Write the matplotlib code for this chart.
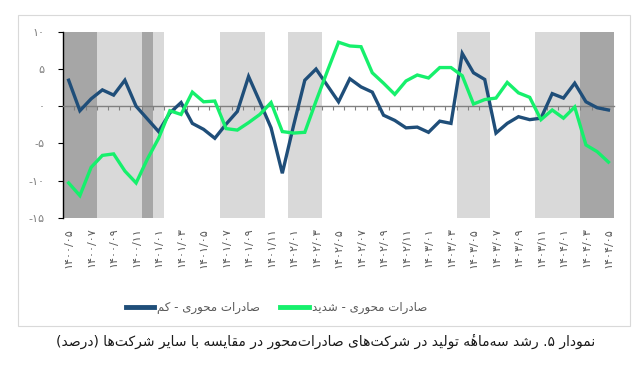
import matplotlib
matplotlib.use("Agg")
import matplotlib.pyplot as plt
from matplotlib.patches import Rectangle
from matplotlib.lines import Line2D
import numpy as np

# ---- data -------------------------------------------------------------
start_year, start_month, n_months = 1400, 5, 49
periods = []
y, m = start_year, start_month
for _ in range(n_months):
    periods.append(f"{y}/{m:02d}")
    m += 1
    if m > 12:
        y, m = y + 1, 1

export_low = [3.5, -0.6, 1.0, 2.2, 1.5, 3.5, 0.0, -1.7, -3.4, -0.9,
              0.5, -2.3, -3.1, -4.3, -2.4, -0.7, 4.0, 0.6, -2.9, -9.0,
              -2.6, 3.5, 5.0, 2.8, 0.6, 3.7, 2.6, 1.9, -1.2, -1.9,
              -2.9, -2.8, -3.5, -2.0, -2.3, 7.1, 4.5, 3.6, -3.6, -2.3,
              -1.4, -1.8, -1.6, 1.7, 1.1, 3.1, 0.6, -0.2, -0.5]
export_high = [-10.3, -12.0, -8.2, -6.6, -6.4, -8.7, -10.3, -7.1, -4.3, -0.6,
               -1.1, 1.9, 0.6, 0.7, -3.0, -3.2, -2.2, -1.1, 0.5, -3.4,
               -3.6, -3.5, 0.7, 4.7, 8.6, 8.1, 8.0, 4.5, 3.1, 1.6,
               3.4, 4.2, 3.8, 5.2, 5.2, 4.1, 0.3, 0.9, 1.1, 3.2,
               1.8, 1.2, -1.8, -0.5, -1.6, -0.1, -5.2, -6.1, -7.5]

# shaded periods (first index, last index, kind)
shade_periods = [(0, 2, "dark"), (3, 6, "light"), (7, 7, "dark"), (8, 8, "light"),
                 (14, 17, "light"), (20, 22, "light"), (35, 37, "light"),
                 (42, 45, "light"), (46, 48, "dark")]

label_low = "صادرات محوری - کم"
label_high = "صادرات محوری - شدید"
caption = "نمودار ۵. رشد سه‌ماهۀ تولید در شرکت‌های صادرات‌محور در مقایسه با سایر شرکت‌ها (درصد)"

# ---- simple persian shaping (matplotlib has no bidi / joining) --------
FORMS = {
    "ا": ("\uFE8D", "\uFE8E", None, None),
    "ب": ("\uFE8F", "\uFE90", "\uFE91", "\uFE92"),
    "ت": ("\uFE95", "\uFE96", "\uFE97", "\uFE98"),
    "ح": ("\uFEA1", "\uFEA2", "\uFEA3", "\uFEA4"),
    "د": ("\uFEA9", "\uFEAA", None, None),
    "ر": ("\uFEAD", "\uFEAE", None, None),
    "س": ("\uFEB1", "\uFEB2", "\uFEB3", "\uFEB4"),
    "ش": ("\uFEB5", "\uFEB6", "\uFEB7", "\uFEB8"),
    "ص": ("\uFEB9", "\uFEBA", "\uFEBB", "\uFEBC"),
    "ق": ("\uFED5", "\uFED6", "\uFED7", "\uFED8"),
    "ل": ("\uFEDD", "\uFEDE", "\uFEDF", "\uFEE0"),
    "م": ("\uFEE1", "\uFEE2", "\uFEE3", "\uFEE4"),
    "ن": ("\uFEE5", "\uFEE6", "\uFEE7", "\uFEE8"),
    "ه": ("\uFEE9", "\uFEEA", "\uFEEB", "\uFEEC"),
    "و": ("\uFEED", "\uFEEE", None, None),
    "ی": ("\uFBFC", "\uFBFD", "\uFBFE", "\uFBFF"),
    "ک": ("\uFB8E", "\uFB8F", "\uFB90", "\uFB91"),
    # heh with yeh above: heh form + combining hamza above
    "ۀ": ("\uFEE9\u0654", "\uFEEA\u0654", None, None),
}


def fa(text):
    tokens = []
    for i, c in enumerate(text):
        if c not in FORMS:
            if c != "\u200c":
                tokens.append(c)
            continue
        prev = text[i - 1] if i > 0 else ""
        nxt = text[i + 1] if i + 1 < len(text) else ""
        jp = prev in FORMS and FORMS[prev][2] is not None
        jn = nxt in FORMS and FORMS[c][2] is not None
        iso, fin, ini, med = FORMS[c]
        tokens.append(med if jp and jn else fin if jp else ini if jn else iso)
    s = "".join(tokens[::-1])
    return s.translate(str.maketrans("()", ")("))


def fa_digits(s):
    return s.translate(str.maketrans("0123456789", "۰۱۲۳۴۵۶۷۸۹"))


# ---- plot -------------------------------------------------------------
plt.rcParams["font.family"] = ["DejaVu Sans"]
fig = plt.figure(figsize=(6.43, 3.70), dpi=100)
ax = fig.add_axes([0.098, 0.411, 0.857, 0.503])

x = np.arange(n_months)
shade_colors = {"dark": "#a6a6a6", "light": "#d9d9d9"}
for a, b, kind in shade_periods:
    ax.axvspan(a - 0.5, b + 0.5, color=shade_colors[kind], lw=0, zorder=0)

ax.plot(x, export_low, color="#1f4e79", lw=2.4, zorder=3, solid_joinstyle="miter")
ax.plot(x, export_high, color="#16f06c", lw=2.4, zorder=3, solid_joinstyle="miter")

ax.set_xlim(-0.5, n_months - 0.5)
ax.set_ylim(-15, 10)

for s in ["top", "right"]:
    ax.spines[s].set_visible(False)
ax.spines["bottom"].set_position(("data", 0))
ax.spines["bottom"].set_color("#808080")
ax.spines["bottom"].set_linewidth(1.0)
ax.spines["left"].set_color("black")
ax.spines["left"].set_linewidth(1.0)

ax.set_xticks(np.arange(0.5, n_months - 1, 1))
ax.tick_params(axis="x", length=3, width=0.8, color="#808080", labelbottom=False)

yt = [-15, -10, -5, 0, 5, 10]
ax.set_yticks(yt)
ax.set_yticklabels([fa_digits(str(v)) for v in yt])
ax.tick_params(axis="y", length=3.5, width=0.8, color="black",
               labelsize=8, labelcolor="#7f7f7f", pad=10)

sec = ax.secondary_xaxis(0)
sec.set_xticks(x[::2])
sec.set_xticklabels([fa_digits(p) for p in periods[::2]], rotation=90,
                    fontsize=8, color="#595959")
sec.tick_params(length=0, pad=7)
sec.spines["bottom"].set_visible(False)

handles = [Line2D([], [], color="#1f4e79", lw=3.5),
           Line2D([], [], color="#16f06c", lw=3.5)]
fig.legend(handles, [fa(label_low), fa(label_high)], ncol=2, frameon=False,
           loc="center", bbox_to_anchor=(0.43, 0.168), fontsize=8.5,
           labelcolor="#595959", handlelength=2.4, handletextpad=0.3,
           columnspacing=1.7)

fig.patches.append(Rectangle((0.028, 0.119), 0.952, 0.841, transform=fig.transFigure,
                             fill=False, edgecolor="#d9d9d9", lw=0.8))

fig.text(0.507, 0.076, fa(caption), ha="center", va="center", fontsize=10,
         color="#1a1a1a")

fig.savefig("out.png", dpi=100)
